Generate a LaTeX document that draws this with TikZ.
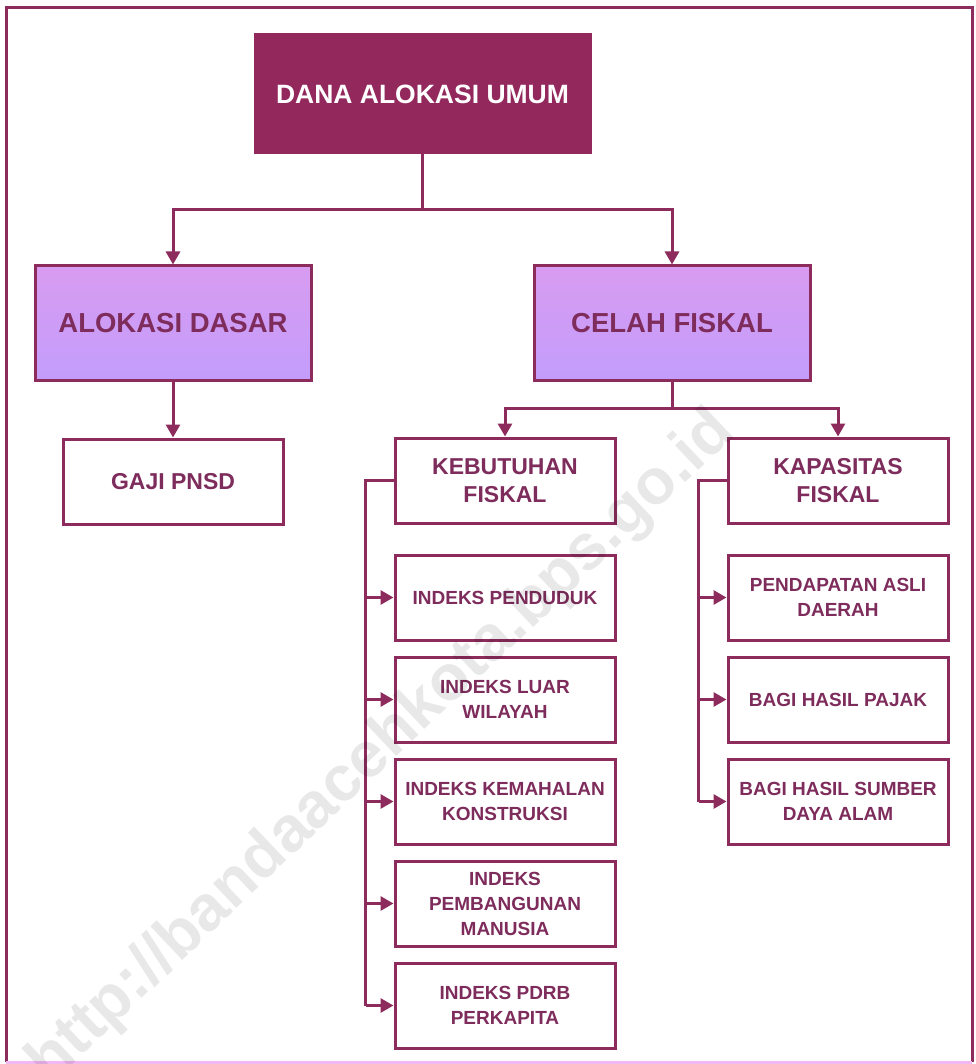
\documentclass[tikz,border=0pt]{standalone}
\usepackage{fontspec}
\setmainfont{Liberation Sans}
\usepackage{tikz}
\usetikzlibrary{calc,positioning,arrows.meta}

\definecolor{daumag}{HTML}{93285D}
\definecolor{linemag}{HTML}{8C2B5C}
\definecolor{textmag}{HTML}{7E2C5C}
\definecolor{lavtop}{HTML}{D89CF0}
\definecolor{lavbot}{HTML}{C39DFC}
\definecolor{framepink}{HTML}{F2B8F2}

\begin{document}
\begin{tikzpicture}[
			x=1pt,y=-1pt,
			kotak/.style={
				draw=linemag,
				line width=3pt,
				rectangle,
				align=center,
				font=\bfseries,
				text=textmag,
			},
			utama/.style={
				kotak,
				fill=daumag,
				draw=daumag,
				text=white,
				minimum width=335pt,
				minimum height=118pt,
				font=\bfseries\fontsize{26.5}{30}\selectfont,
			},
			tingkat/.style={
				kotak,
				top color=lavtop,
				bottom color=lavbot,
				minimum width=276pt,
				minimum height=114pt,
				font=\bfseries\fontsize{27.5}{32}\selectfont,
			},
			sub/.style={
				kotak,
				fill=white,
				minimum width=220pt,
				minimum height=85pt,
				font=\bfseries\fontsize{23}{28}\selectfont,
			},
			indeks/.style={
				sub,
				node distance=14pt,
				font=\bfseries\fontsize{19}{25}\selectfont,
			},
			garis/.style={
				draw=linemag,
				line width=3pt,
			},
			panah/.style={
				garis,
				-{Triangle[length=13pt,width=14pt]},
			}
		]
		\useasboundingbox (0,0) rectangle (975,1064);
		\draw[linemag,line width=3pt] (6,1062) -- (6,8) -- (972,8) -- (972,1062);
		\draw[framepink,line width=3pt] (6,1062) -- (972,1062);

		\node[utama] (dau) at (422.5,94) {DANA ALOKASI UMUM};
		\node[tingkat] (ad) at (173,323) {ALOKASI DASAR};
		\node[tingkat] (cf) at (672,323) {CELAH FISKAL};

		\node[sub,below=56pt of ad] (gaji) {GAJI PNSD};
		\node[sub] (kf) at (505,480.5) {KEBUTUHAN\\FISKAL};
		\node[sub] (kp) at (838,480.5) {KAPASITAS\\FISKAL};

		\node[indeks,below=29pt of kf] (kf1) {INDEKS PENDUDUK};
		\node[indeks,below=of kf1] (kf2) {INDEKS LUAR\\WILAYAH};
		\node[indeks,below=of kf2] (kf3) {INDEKS KEMAHALAN\\KONSTRUKSI};
		\node[indeks,below=of kf3] (kf4) {INDEKS\\PEMBANGUNAN\\MANUSIA};
		\node[indeks,below=of kf4] (kf5) {INDEKS PDRB\\PERKAPITA};

		\node[indeks,below=29pt of kp] (kp1) {PENDAPATAN ASLI\\DAERAH};
		\node[indeks,below=of kp1] (kp2) {BAGI HASIL PAJAK};
		\node[indeks,below=of kp2] (kp3) {BAGI HASIL SUMBER\\DAYA ALAM};

		\coordinate (j1) at ($(dau.south)+(0,55)$);
		\draw[garis] (dau.south) -- (j1);
		\draw[panah] (j1) -| (ad.north);
		\draw[panah] (j1) -| (cf.north);
		\draw[panah] (ad.south) -- (gaji.north);

		\coordinate (j2) at ($(cf.south)+(0,27)$);
		\draw[garis] (cf.south) -- (j2);
		\draw[panah] (j2) -| (kf.north);
		\draw[panah] (j2) -| (kp.north);

		\coordinate (s1) at ($(kf.west)+(-28,0)$);
		\draw[garis] (kf.west) -- (s1) -- (s1 |- kf5);
		\foreach \i in {1,...,5}
			\draw[panah] (s1 |- kf\i) -- (kf\i.west);

		\coordinate (s2) at ($(kp.west)+(-28,0)$);
		\draw[garis] (kp.west) -- (s2) -- (s2 |- kp3);
		\foreach \i in {1,2,3}
			\draw[panah] (s2 |- kp\i) -- (kp\i.west);

		\node[rotate=43.5,opacity=0.09,font=\bfseries\fontsize{64}{70}\selectfont] (wm) at (382,748) {http://bandaacehkota.bps.go.id};

	\end{tikzpicture}
\end{document}
